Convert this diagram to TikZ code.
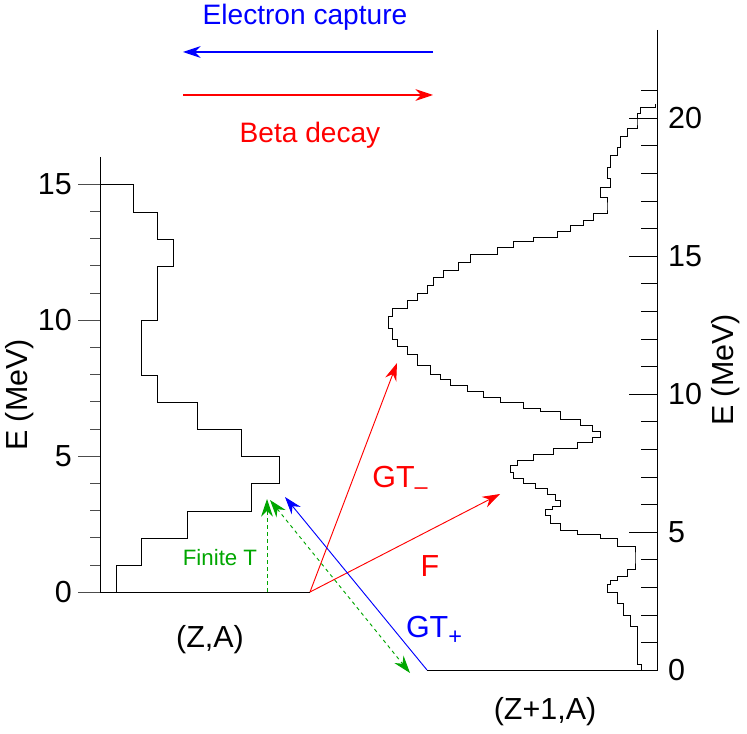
\documentclass[tikz,border=0pt]{standalone}
\usepackage{fontspec}
\setmainfont{Liberation Sans}
\usetikzlibrary{arrows.meta}
\tikzset{>={Stealth[length=15pt,width=10pt]}}
\tikzset{
  lbl/.style={font=\fontsize{26}{30}\selectfont},
  small lbl/.style={font=\fontsize{19}{22}\selectfont},
  hist/.style={line width=0.7pt},
  tick/.style={line width=0.5pt,gray!60!black}
}
\newcommand{\lowsub}[1]{\raisebox{-0.45ex}{\fontsize{20}{20}\selectfont #1}}

\begin{document}
\begin{tikzpicture}[x=0.03cm,y=-0.03cm]
  \useasboundingbox (0,0) rectangle (747,734);

  % Direction legend
  \coordinate (ecR) at (433,52);
  \coordinate (ecL) at (183,52);
  \coordinate (bdL) at (183,95);
  \coordinate (bdR) at (433,95);
  \draw[->,blue,line width=0.9pt] (ecR) -- (ecL);
  \draw[->,red,line width=0.9pt] (bdL) -- (bdR);
  \node[lbl,blue,font=\fontsize{24}{28}\selectfont] (ec) at (305,17) {Electron capture};
  \node[lbl,red,font=\fontsize{24}{28}\selectfont] (bd) at (310,135) {Beta decay};

  % Left axis (Z,A)
  \draw[line width=0.8pt] (100,157) -- (100,592) -- (310,592);
  \foreach \e in {1,...,14} \draw[tick] (90,{592-27.2*\e}) -- (100,{592-27.2*\e});
  \foreach \e in {0,5,10,15} {
    \draw[tick] (78,{592-27.2*\e}) -- (100,{592-27.2*\e});
    \node[lbl,anchor=east] at (76,{592-27.2*\e}) {\e};
  }
  \node[lbl,rotate=90] (eleft) at (20,395) {E (MeV)};
  \node[lbl] (za) at (210,640) {(Z,A)};
  \draw[hist] (100,184) -| (133,212) -| (157,239) -| (173,266) -| (157,320)
    -| (141,375) -| (157,402) -| (197,429) -| (241,456) -| (279,483)
    -| (251,511) -| (187,538) -| (141,565) -| (116,592);

  % Right axis (Z+1,A)
  \draw[line width=0.8pt] (657,30) -- (657,670) -- (427,670);
  \foreach \e in {1,...,21} \draw[tick,black] (641,{670-27.6*\e}) -- (657,{670-27.6*\e});
  \foreach \e in {0,5,10,15,20} {
    \draw[tick,black] (629,{670-27.6*\e}) -- (657,{670-27.6*\e});
    \node[lbl,anchor=west] at (664,{670-27.6*\e}) {\e};
  }
  \node[lbl,rotate=90] (eright) at (726,370) {E (MeV)};
  \node[lbl] (zpa) at (545,712) {(Z+1,A)};
  \begin{scope}[yshift=0.402cm,yscale=1.149]
  \draw[hist,line width=0.5pt] (641,594.8) |- (637,590) |- (630,557) |- (623,547) |- (617,537)
    |- (607,527) |- (610,520) |- (617,517) |- (627,513) |- (635,507) |- (635,497)
    |- (617,487) |- (600,480) |- (577,477) |- (560,473) |- (550,467) |- (545,460)
    |- (552,455) |- (560,452) |- (555,447) |- (547,442) |- (535,437) |- (523,432)
    |- (513,428) |- (510,423) |- (517,417) |- (533,412) |- (553,407) |- (577,402)
    |- (592,397) |- (600,392) |- (592,387) |- (580,382) |- (560,377) |- (540,370)
    |- (523,367) |- (500,362) |- (483,357) |- (467,352) |- (450,347) |- (440,342)
    |- (430,337) |- (417,330) |- (407,320) |- (397,313) |- (392,307) |- (388,297)
    |- (392,287) |- (407,280) |- (417,273) |- (427,267) |- (433,260) |- (443,253)
    |- (458,247) |- (470,240) |- (497,233) |- (513,227) |- (533,222) |- (557,218)
    |- (570,213) |- (583,208) |- (593,203) |- (607,197) |- (607,192) |- (600,183)
    |- (610,175) |- (607,167) |- (610,157) |- (617,147) |- (620,140) |- (627,130)
    |- (637,123) |- (637,118) |- (640,110) |- (655,105) |- (655,102);
  \end{scope}

  % Transitions
  \coordinate (gs) at (310,592);
  \coordinate (gtm) at (397,363);
  \coordinate (fermi) at (500,494);
  \coordinate (gsr) at (427,670);
  \coordinate (gtp) at (285,497);
  \draw[->,red,line width=0.8pt] (gs) -- (gtm);
  \draw[->,red,line width=0.8pt] (gs) -- (fermi);
  \draw[->,blue,line width=0.8pt] (gsr) -- (gtp);
  \node[lbl,red] (gtmlbl) at (400,480) {GT\lowsub{--}};
  \node[lbl,red] (flbl) at (430,566) {F};
  \node[lbl,blue] (gtplbl) at (434,630) {GT\lowsub{+}};

  % Finite temperature
  \coordinate (ftb) at (267,592);
  \coordinate (ftt) at (267,499);
  \coordinate (fts) at (270,500);
  \coordinate (fte) at (410,673);
  \draw[->,dashed,green!65!black,line width=0.8pt] (ftb) -- (ftt);
  \draw[<->,dashed,green!65!black,line width=0.8pt] (fts) -- (fte);
  \node[small lbl,green!65!black] (ft) at (220,558) {Finite T};
\end{tikzpicture}
\end{document}
